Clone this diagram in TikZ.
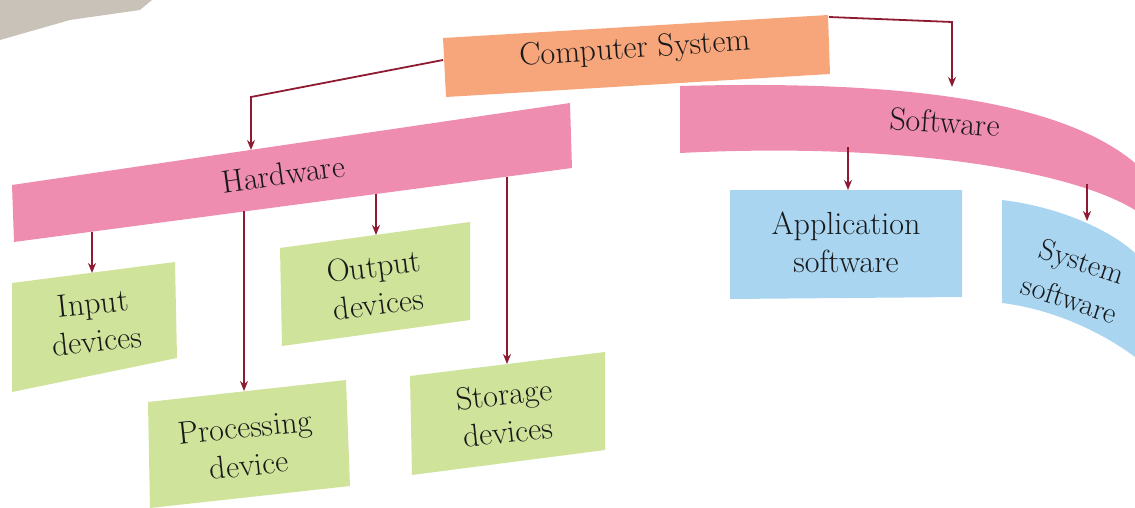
\documentclass[tikz,border=0pt]{standalone}
\usepackage{tikz}
\usetikzlibrary{arrows.meta}

\definecolor{csorange}{HTML}{F7A67C}
\definecolor{bandpink}{HTML}{EE8DB0}
\definecolor{devgreen}{HTML}{CFE39B}
\definecolor{softblue}{HTML}{A9D5F0}
\definecolor{linkred}{HTML}{8E1B32}
\definecolor{paper}{HTML}{C9C2B8}

\begin{document}
\begin{tikzpicture}[x=0.5pt, y=-0.5pt, >={Stealth[length=5pt,width=4pt]},
    lbl/.style={font=\fontsize{16}{19}\selectfont, align=center, text=black!90},
    link/.style={draw=linkred, line width=0.9pt, ->}]
    \useasboundingbox (0,0) rectangle (1135,508);
    % Page corner
    \fill[paper] (0,0) -- (152,0) -- (140,10) -- (70,20) -- (0,40) -- cycle;
    % Top box
    \fill[csorange] (443,38) -- (828,15) -- (830,74) -- (446,97) -- cycle;
    \node[lbl, rotate=4] (cs) at (635,50) {Computer System};
    % Hardware band and its boxes
    \fill[bandpink] (12,185) -- (570,103) -- (572,168) -- (14,242) -- cycle;
    \node[lbl, rotate=8] (hw) at (283,174) {Hardware};
    \fill[devgreen] (12,283) -- (175,262) -- (177,358) -- (12,392) -- cycle;
    \node[lbl, rotate=6] (in) at (95,322) {Input\\devices};
    \fill[devgreen] (148,402) -- (346,380) -- (350,486) -- (150,508) -- cycle;
    \node[lbl, rotate=6] (pr) at (247,446) {Processing\\device};
    \fill[devgreen] (280,248) -- (470,222) -- (470,320) -- (282,346) -- cycle;
    \node[lbl, rotate=7] (out) at (376,285) {Output\\devices};
    \fill[devgreen] (410,376) -- (605,352) -- (605,450) -- (412,475) -- cycle;
    \node[lbl, rotate=6] (st) at (506,413) {Storage\\devices};
    % Software band and its boxes
    \fill[bandpink] (680,86) .. controls (900,80) and (1060,100) .. (1135,163)
        -- (1135,210) .. controls (1070,170) and (900,142) .. (680,153) -- cycle;
    \node[lbl, rotate=-4] (sw) at (945,122) {Software};
    \fill[softblue] (730,190) -- (962,190) -- (962,297) -- (730,299) -- cycle;
    \node[lbl] (app) at (846,242) {Application\\software};
    \fill[softblue] (1002,200) .. controls (1060,207) and (1110,230) .. (1135,253)
        -- (1135,357) .. controls (1110,338) and (1060,310) .. (1002,303) -- cycle;
    \node[lbl, font=\fontsize{15}{18}\selectfont, rotate=-18] (sys) at (1076,280) {System\\[2pt]software};
    % Link points
    \coordinate (csL) at (443,60);
    \coordinate (csR) at (829,17);
    \coordinate (hwBend) at (251,97);
    \coordinate (swBend) at (952,22);
    \coordinate (hwTop) at (251,150);
    \coordinate (swTop) at (952,87);
    \coordinate (hwIn) at (92,232);
    \coordinate (hwPr) at (244,211);
    \coordinate (hwOut) at (376,194);
    \coordinate (hwSt) at (507,177);
    \coordinate (swApp) at (848,147);
    \coordinate (swSys) at (1087,184);
    \coordinate (inTop) at (92,273);
    \coordinate (prTop) at (244,391);
    \coordinate (outTop) at (376,235);
    \coordinate (stTop) at (507,364);
    \coordinate (appTop) at (848,190);
    \coordinate (sysTop) at (1087,221);
    % Links
    \draw[link] (csL) -- (hwBend) -- (hwTop);
    \draw[link] (csR) -- (swBend) -- (swTop);
    \draw[link] (hwIn) -- (inTop);
    \draw[link] (hwPr) -- (prTop);
    \draw[link] (hwOut) -- (outTop);
    \draw[link] (hwSt) -- (stTop);
    \draw[link] (swApp) -- (appTop);
    \draw[link] (swSys) -- (sysTop);
\end{tikzpicture}
\end{document}
